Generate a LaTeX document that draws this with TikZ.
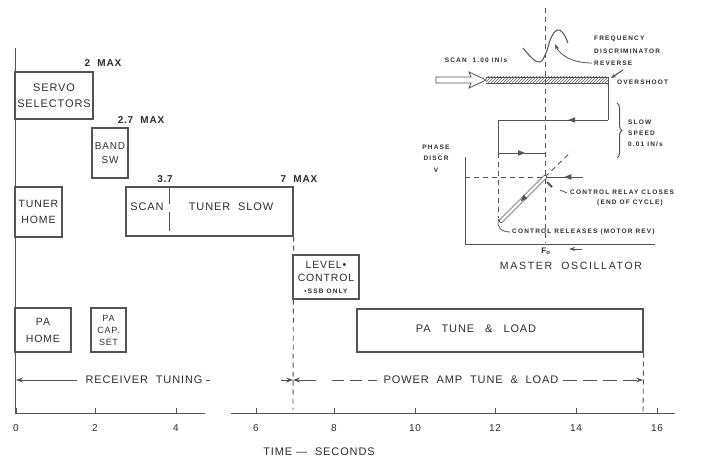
\documentclass[tikz,border=0pt]{standalone}
\usepackage{fontspec}
\setmainfont{Liberation Sans}[LetterSpace=8]
\newfontfamily\smallf{Liberation Sans}[LetterSpace=18]
\newfontfamily\widef{Liberation Sans}[LetterSpace=16]
\usetikzlibrary{arrows.meta,decorations.pathreplacing,decorations.markings,patterns}
\definecolor{ink}{gray}{0.18}
\definecolor{lin}{gray}{0.33}
\begin{document}
\begin{tikzpicture}[x=1pt,y=-1pt,
  every node/.style={text=ink},
  box/.style={draw=lin,line width=1.2pt,inner sep=0pt,align=center,font=\fontsize{11}{16}\selectfont},
  txt/.style={font=\fontsize{11}{13}\selectfont,inner sep=0pt},
  lbl/.style={font=\bfseries\fontsize{10}{12}\selectfont,inner sep=0pt},
  tick/.style={font=\fontsize{10}{12}\selectfont,inner sep=0pt},
  sm/.style={font=\smallf\bfseries\fontsize{6.5}{8}\selectfont,inner sep=0pt},
  ln/.style={draw=lin,line width=1pt},
  dsh/.style={draw=lin,line width=0.9pt,dash pattern=on 5pt off 4pt},
  midarrow/.style={postaction={decorate,decoration={markings,mark=at position #1 with {\fill[lin] (3.5pt,0pt) -- (-3.5pt,2.8pt) -- (-3.5pt,-2.8pt) -- cycle;}}}},
  tip/.style={-{Stealth[length=7pt,width=5pt]}},
]
\fill[white] (0,0) rectangle (707,460);
\useasboundingbox (0,0) rectangle (707,460);

% ---- time axis ----
\coordinate (ytop) at (15,48);
\coordinate (orig) at (15,413);
\coordinate (xend) at (675,413);
\draw[ln] (ytop) -- (orig) -- (205,413);
\draw[ln] (231,413) -- (xend);
\foreach \tv/\px in {0/16,2/95,4/176,6/256,8/334,10/415,12/495,14/576,16/657}{
  \draw[ln] (\px,408) -- (\px,413);
  \node[tick] (tk\tv) at (\px,428) {\tv};
}
\node[txt] (tlabel) at (319,452) {TIME\ — \ SECONDS};

% ---- boxes ----
\node[box,minimum width=78pt,minimum height=47pt] (servo) at (54,95.5) {SERVO\\SELECTORS};
\node[lbl] (m2) at (103,63) {2\ \ MAX};
\node[box,minimum width=36pt,minimum height=50pt,font=\fontsize{10}{14}\selectfont] (band) at (110,153) {BAND\\SW};
\node[lbl] (m27) at (141,120) {2.7\ \ MAX};
\node[box,minimum width=47pt,minimum height=50pt,font=\fontsize{10.5}{16}\selectfont] (thome) at (38.5,212) {TUNER\\HOME};
\node[box,minimum width=167pt,minimum height=49pt] (scanbox) at (209.5,211.5) {};
\node[txt] (scan) at (147,207) {SCAN};
\node[txt] (tslow) at (231,207) {TUNER\ \ SLOW};
\draw[ln] (169,187) -- (169,204);
\draw[ln] (169,212) -- (169,231);
\node[lbl] (m37) at (165,179) {3.7};
\node[lbl] (m7) at (299,179) {7\ \ MAX};
\draw[dsh] (scanbox.south east) -- (293,410);
\node[box,minimum width=66pt,minimum height=44pt,font=\fontsize{10.5}{13}\selectfont] (level) at (326,277)
  {LEVEL•\\CONTROL\\[-1pt]{\smallf\bfseries\fontsize{6.5}{8}\selectfont •SSB\ ONLY}};
\node[box,minimum width=56pt,minimum height=44pt,font=\fontsize{10.5}{17}\selectfont] (pahome) at (43,330) {PA\\HOME};
\node[box,minimum width=35pt,minimum height=44pt,font=\fontsize{9}{12}\selectfont] (pacap) at (108.5,330) {PA\\CAP.\\SET};
\node[box,minimum width=286pt,minimum height=43pt] (patune) at (500,330.5) {};
\node[txt] (patxt) at (476,329) {PA\quad TUNE\quad\&\quad LOAD};
\draw[dsh] (patune.south east) -- (643,413);

% ---- phase arrows ----
\node[txt] (rx) at (144,380) {RECEIVER\ \ TUNING};
\coordinate (rxend) at (16,380);
\draw[ln,tip] ([xshift=-8pt]rx.west) -- (rxend);
\draw[ln] ([xshift=3pt]rx.east) -- ++(4,0);
\coordinate (t7) at (293,380);
\draw[ln,tip] (281,380) -- (t7);
\draw[ln,tip] (316,380) -- (t7);
\node[txt] (pwr) at (471,380) {POWER\ \ AMP\ \ TUNE\ \ \&\ \ LOAD};
\draw[ln,dash pattern=on 12pt off 6pt] (332,380) -- ([xshift=-6pt]pwr.west);
\draw[ln,dash pattern=on 14pt off 6pt,tip] ([xshift=4pt]pwr.east) -- (643,380);

% ---- inset: scan / slow speed ----
\draw[dsh] (545,8) -- (545,243);
\node[sm] (scanlbl) at (476,60) {SCAN\ \ 1.00 IN/s};
\draw[lin,line width=0.8pt,fill=white] (436,77) -- (471,77) -- (469,72) -- (486,80) -- (469,88) -- (471,83) -- (436,83) -- cycle;
\fill[pattern=north east lines,pattern color=lin] (486,77) rectangle (608,83);
\draw[lin,line width=0.8pt] (486,77) -- (608,77);
\draw[lin,line width=0.8pt] (486,83) -- (608,83);
\coordinate (c1) at (608,77);
\coordinate (c2) at (608,120);
\coordinate (c3) at (498,120);
\coordinate (c4) at (498,153);
\coordinate (c5) at (545,153);
\draw[ln] (c1) -- (c2);
\draw[ln,midarrow=0.33] (c2) -- (c3);
\draw[ln] (c3) -- (c4);
\draw[ln,midarrow=0.5] (c4) -- (c5);
\draw[ln] plot[smooth,tension=0.7] coordinates {(523,48) (532,58) (540,62) (546,53) (551,38) (557,30) (563,33) (568,43)};
\node[sm,anchor=west] (fr1) at (594,39) {FREQUENCY};
\node[sm,anchor=west] (fr2) at (594,51) {DISCRIMINATOR};
\node[sm,anchor=west] (fr3) at (594,63) {REVERSE};
\draw[ln,line width=0.8pt,-{Stealth[length=6pt,width=4pt]}] ([xshift=-2pt]fr3.west) .. controls (572,63) and (560,55) .. (555,44);
\node[sm,anchor=west] (over) at (617,82) {OVERSHOOT};
\draw[ln,-{Stealth[length=5pt,width=4pt]}] (623,70) -- (611,78);
\draw[ln,decorate,decoration={brace,amplitude=5pt}] (617,103) -- (617,158);
\node[sm,anchor=west] (sl1) at (628,122) {SLOW};
\node[sm,anchor=west] (sl2) at (628,133) {SPEED};
\node[sm,anchor=west] (sl3) at (628,144) {0.01 IN/s};

% ---- inset: phase discriminator plot ----
\node[sm] (ph1) at (436,147) {PHASE};
\node[sm] (ph2) at (436,158) {DISCR};
\node[sm] (ph3) at (436,170) {V};
\coordinate (pv) at (465,157);
\coordinate (po) at (465,244);
\coordinate (ph) at (655,244);
\draw[ln] (pv) -- (po) -- (ph);
\coordinate (fo) at (545,177);
\draw[dsh] (465,177) -- (fo);
\draw[dsh] (c4) -- (498,218);
\draw[dsh] (fo) -- (571,152);
\draw[ln,midarrow=0.4] (583,177) -- (fo);
\coordinate (lo) at (501,221);
\draw[lin,line width=0.8pt,double=white,double distance=2.6pt,line cap=round] (fo) -- (lo);
\path[midarrow=0.5] (fo) -- (lo);
\draw[lin,line width=2pt] (547,182) -- (552,187);
\draw[lin,line width=0.8pt] (560,190) -- (567,193);
\node[sm,anchor=west] (crc) at (570,192) {CONTROL RELAY CLOSES};
\node[sm] (eoc) at (630,203) {(END OF CYCLE)};
\draw[ln,line width=0.8pt] (499,219) .. controls (495,227) and (502,232) .. (510,232);
\node[sm,anchor=west] (crel) at (512,232) {CONTROL RELEASES (MOTOR REV)};
\node[font=\bfseries\fontsize{8}{9}\selectfont,inner sep=0pt] (f0) at (546,251) {F\textsubscript{o}};
\draw[ln,-{Stealth[length=6pt,width=4pt]}] (582,249) -- (569,249);
\node[font=\widef\fontsize{10.5}{12}\selectfont,inner sep=0pt] (mo) at (571,266) {MASTER\ \ OSCILLATOR};
\end{tikzpicture}
\end{document}
